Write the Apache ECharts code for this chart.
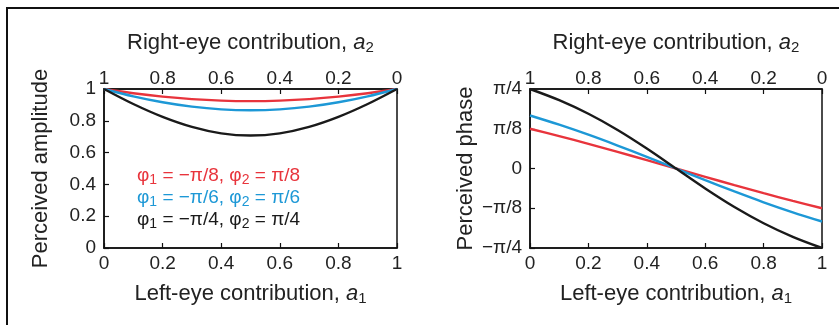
<!DOCTYPE html>
<html>
<head>
<meta charset="utf-8">
<script src="https://cdn.jsdelivr.net/npm/echarts@6/dist/echarts.min.js"></script>
<style>
  html, body { margin: 0; padding: 0; background: #fff; }
  #chart { width: 839px; height: 325px; }
</style>
</head>
<body>
<div id="chart"></div>
<script>
// left-eye contribution a1 (right-eye a2 = 1 - a1)
const a1 = [0, 0.1, 0.2, 0.3, 0.4, 0.5, 0.6, 0.7, 0.8, 0.9, 1]

const seriesNames = ['φ1 = −π/8, φ2 = π/8', 'φ1 = −π/6, φ2 = π/6', 'φ1 = −π/4, φ2 = π/4']
const seriesColors = ['#e8343c', '#1d98d6', '#1a1a1a']

// perceived amplitude
const ampPi8 = [1, 0.9733, 0.952, 0.9365, 0.9271, 0.9239, 0.9271, 0.9365, 0.952, 0.9733, 1]
const ampPi6 = [1, 0.9539, 0.9165, 0.8888, 0.8718, 0.866, 0.8718, 0.8888, 0.9165, 0.9539, 1]
const ampPi4 = [1, 0.9055, 0.8246, 0.7616, 0.7211, 0.7071, 0.7211, 0.7616, 0.8246, 0.9055, 1]

// perceived phase, in multiples of pi
const phasePi8 = [0.125, 0.1019, 0.0775, 0.0523, 0.0263, 0, -0.0263, -0.0523, -0.0775, -0.1019, -0.125]
const phasePi6 = [0.1667, 0.1377, 0.1062, 0.0722, 0.0366, 0, -0.0366, -0.0722, -0.1062, -0.1377, -0.1667]
const phasePi4 = [0.25, 0.2148, 0.172, 0.1211, 0.0628, 0, -0.0628, -0.1211, -0.172, -0.2148, -0.25]

const phaseTicks = { '-0.25': '−π/4', '-0.125': '−π/8', '0': '0', '0.125': 'π/8', '0.25': 'π/4' }

const FONT = 'Liberation Sans, Arial, Helvetica, sans-serif'
const TEXT = '#222'

const richName = {
  i: { fontFamily: FONT, fontSize: 22, fontStyle: 'italic', lineHeight: 25, color: TEXT },
  s: { fontFamily: FONT, fontSize: 15, lineHeight: 14, verticalAlign: 'bottom', color: TEXT },
}

const chart = echarts.init(document.getElementById('chart'))

const fmtNum = (v) => String(Math.round(v * 10) / 10)

const axisCommon = {
  type: 'value',
  min: 0,
  max: 1,
  interval: 0.2,
  axisLine: { show: true, onZero: false, lineStyle: { color: '#111', width: 1.5 } },
  axisTick: { show: true, inside: true, length: 5, lineStyle: { color: '#111', width: 1.2 } },
  splitLine: { show: false },
  axisLabel: { fontFamily: FONT, fontSize: 19, color: TEXT, formatter: fmtNum },
  nameLocation: 'middle',
  nameTextStyle: { fontFamily: FONT, fontSize: 22, color: TEXT, lineHeight: 25, rich: richName },
}

const bottomAxis = (gridIndex) => ({
  ...axisCommon,
  gridIndex,
  position: 'bottom',
  name: 'Left-eye contribution, {i|a}{s|1}',
  nameGap: 33,
  axisLabel: { ...axisCommon.axisLabel, margin: 6 },
})

const topAxis = (gridIndex) => ({
  ...axisCommon,
  gridIndex,
  position: 'top',
  inverse: true,
  name: 'Right-eye contribution, {i|a}{s|2}',
  nameGap: 34,
  axisLabel: { ...axisCommon.axisLabel, margin: 1 },
})

const makeLine = (name, data, color, xAxisIndex, yAxisIndex) => ({
  name,
  type: 'line',
  xAxisIndex,
  yAxisIndex,
  data: a1.map((x, i) => [x, data[i]]),
  smooth: 0.3,
  showSymbol: false,
  lineStyle: { color, width: 2.4 },
  itemStyle: { color },
  silent: true,
  animation: false,
})

const option = {
  animation: false,
  backgroundColor: '#fff',
  grid: [
    { left: 104, top: 89, width: 293, height: 159, show: true, borderColor: '#111', borderWidth: 1.5 },
    { left: 530, top: 89, width: 292, height: 159, show: true, borderColor: '#111', borderWidth: 1.5 },
  ],
  xAxis: [bottomAxis(0), topAxis(0), bottomAxis(1), topAxis(1)],
  yAxis: [
    {
      ...axisCommon,
      gridIndex: 0,
      name: 'Perceived amplitude',
      nameGap: 52,
      nameTextStyle: { fontFamily: FONT, fontSize: 22, color: TEXT },
      axisLabel: { ...axisCommon.axisLabel, margin: 8 },
    },
    {
      ...axisCommon,
      gridIndex: 1,
      min: -0.25,
      max: 0.25,
      interval: 0.125,
      name: 'Perceived phase',
      nameGap: 53,
      nameTextStyle: { fontFamily: FONT, fontSize: 22, color: TEXT },
      axisLabel: {
        ...axisCommon.axisLabel,
        margin: 8,
        formatter: (v) => phaseTicks[String(v)] ?? '',
      },
    },
  ],
  legend: {
    left: 127,
    top: 160,
    orient: 'vertical',
    icon: 'none',
    itemWidth: 0,
    itemHeight: 14,
    itemGap: 0,
    selectedMode: false,
    data: seriesNames.map((name, i) => ({ name, textStyle: { color: seriesColors[i] } })),
    formatter: (name) => name.replace(/φ(\d)/g, '{p|φ}{s|$1}'),
    textStyle: {
      fontFamily: FONT,
      fontSize: 19,
      lineHeight: 22,
      rich: {
        p: { fontFamily: FONT, fontSize: 19, lineHeight: 22 },
        s: { fontFamily: FONT, fontSize: 14, lineHeight: 13, verticalAlign: 'bottom' },
      },
    },
  },
  graphic: [
    {
      type: 'polyline',
      shape: { points: [[7, 325], [7, 8], [839, 8]] },
      style: { stroke: '#111', lineWidth: 2, fill: null },
      silent: true,
    },
  ],
  series: [
    makeLine(seriesNames[0], ampPi8, seriesColors[0], 0, 0),
    makeLine(seriesNames[1], ampPi6, seriesColors[1], 0, 0),
    makeLine(seriesNames[2], ampPi4, seriesColors[2], 0, 0),
    makeLine(seriesNames[0], phasePi8, seriesColors[0], 2, 1),
    makeLine(seriesNames[1], phasePi6, seriesColors[1], 2, 1),
    makeLine(seriesNames[2], phasePi4, seriesColors[2], 2, 1),
  ],
}

chart.setOption(option)
</script>
</body>
</html>
